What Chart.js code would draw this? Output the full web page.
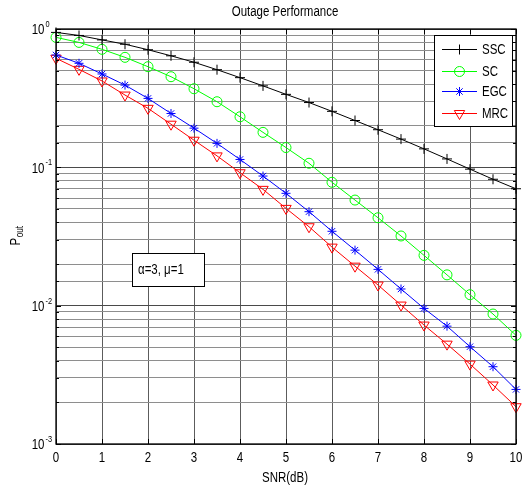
<!DOCTYPE html>
<html>
<head>
<meta charset="utf-8">
<script src="https://cdn.jsdelivr.net/npm/chart.js@4/dist/chart.umd.min.js"></script>
<style>
  html, body { margin: 0; background: #fff; }
  canvas { display: block; }
</style>
</head>
<body>
<canvas id="outageChart" width="523" height="488"></canvas>
<script>
(function () {
  "use strict";

  // SNR (dB) sample points
  const snr = [0, 0.5, 1, 1.5, 2, 2.5, 3, 3.5, 4, 4.5, 5, 5.5, 6, 6.5, 7, 7.5, 8, 8.5, 9, 9.5, 10];

  // outage probability per combiner
  const ssc = [0.945, 0.898, 0.834, 0.776, 0.708, 0.64, 0.575, 0.508, 0.445, 0.388, 0.337, 0.294, 0.254, 0.218, 0.187, 0.16, 0.136, 0.115, 0.097, 0.082, 0.07];
  const sc = [0.87, 0.8, 0.713, 0.624, 0.534, 0.452, 0.37, 0.298, 0.232, 0.179, 0.139, 0.107, 0.078, 0.058, 0.0432, 0.0319, 0.0231, 0.0167, 0.012, 0.0087, 0.0061];
  const egc = [0.649, 0.565, 0.473, 0.393, 0.315, 0.245, 0.192, 0.149, 0.114, 0.0865, 0.0649, 0.0478, 0.0345, 0.0252, 0.0183, 0.0132, 0.00955, 0.00711, 0.00505, 0.00362, 0.00248];
  const mrc = [0.614, 0.511, 0.421, 0.333, 0.267, 0.205, 0.157, 0.121, 0.0914, 0.0693, 0.0505, 0.0372, 0.0265, 0.0193, 0.0141, 0.0101, 0.00724, 0.00527, 0.00378, 0.00267, 0.00186];

  const seriesNames = ["SSC", "SC", "EGC", "MRC"];
  const xTicks = [0, 1, 2, 3, 4, 5, 6, 7, 8, 9, 10];
  const yExponents = [0, -1, -2, -3];

  const FONT = "'Liberation Sans', Arial, sans-serif";
  const SQUEEZE = 0.82; // the figure's text is horizontally compressed
  const colors = { ssc: "#000000", sc: "#00ff00", egc: "#0000ff", mrc: "#ff0000" };

  const isDecade = v => Math.abs(Math.log10(v) - Math.round(Math.log10(v))) < 1e-6;
  const toPoints = ys => snr.map((x, i) => ({ x, y: ys[i] }));

  // narrow text: draw with horizontal scaling around the anchor
  function text(ctx, str, x, y, size, align, baseline) {
    ctx.save();
    ctx.translate(x, y);
    ctx.scale(SQUEEZE, 1);
    ctx.font = size + "px " + FONT;
    ctx.textAlign = align || "left";
    ctx.textBaseline = baseline || "middle";
    ctx.fillText(str, 0, 0);
    ctx.restore();
  }
  function textWidth(ctx, str, size) {
    ctx.save();
    ctx.font = size + "px " + FONT;
    const w = ctx.measureText(str).width * SQUEEZE;
    ctx.restore();
    return w;
  }

  function series(label, ys, color, style, radius, rotation) {
    return {
      label,
      data: toPoints(ys),
      borderColor: color,
      backgroundColor: "rgba(0,0,0,0)",
      borderWidth: 1,
      pointStyle: style,
      pointRadius: radius,
      pointRotation: rotation || 0,
      pointBorderColor: color,
      pointBackgroundColor: "rgba(0,0,0,0)",
      pointBorderWidth: 1,
      tension: 0,
      clip: false
    };
  }

  const datasets = [
    series(seriesNames[0], ssc, colors.ssc, "cross", 5),
    series(seriesNames[1], sc, colors.sc, "circle", 5),
    series(seriesNames[2], egc, colors.egc, "star", 4.5),
    series(seriesNames[3], mrc, colors.mrc, "triangle", 6, 180)
  ];

  const decorations = {
    id: "decorations",
    afterDatasetsDraw(chart) {
      const { ctx, chartArea: a, scales } = chart;
      const xs = scales.x, ys = scales.y;
      ctx.save();

      // axes box
      ctx.strokeStyle = "#000";
      ctx.lineWidth = 1.3;
      ctx.strokeRect(a.left, a.top, a.right - a.left, a.bottom - a.top);

      // inward tick marks
      ctx.lineWidth = 1;
      ctx.beginPath();
      ys.ticks.forEach(t => {
        const y = Math.round(ys.getPixelForValue(t.value)) + 0.5;
        const len = isDecade(t.value) ? 5 : 3;
        ctx.moveTo(a.left, y); ctx.lineTo(a.left + len, y);
        ctx.moveTo(a.right, y); ctx.lineTo(a.right - len, y);
      });
      xTicks.forEach(v => {
        const x = Math.round(xs.getPixelForValue(v)) + 0.5;
        ctx.moveTo(x, a.bottom); ctx.lineTo(x, a.bottom - 5);
        ctx.moveTo(x, a.top); ctx.lineTo(x, a.top + 5);
      });
      ctx.stroke();

      ctx.fillStyle = "#000";
      // x tick labels
      xTicks.forEach(v => {
        text(ctx, String(v), xs.getPixelForValue(v), a.bottom + 14.5, 14, "center", "middle");
      });
      // y tick labels 10^n
      yExponents.forEach(p => {
        const y = ys.getPixelForValue(Math.pow(10, p));
        text(ctx, "10", 44.5, y + 1.5, 14, "right", "middle");
        text(ctx, String(p), 45.5, y - 2, 9, "left", "alphabetic");
      });

      // parameter note
      const bx = 132, by = 253, bw = 72, bh = 33;
      ctx.fillStyle = "#fff";
      ctx.fillRect(bx, by, bw, bh);
      ctx.strokeStyle = "#000";
      ctx.strokeRect(bx + 0.5, by + 0.5, bw, bh);
      ctx.fillStyle = "#000";
      text(ctx, "\u03b1=3, \u03bc=1", 138, 270, 14, "left", "middle");

      // legend
      const lx = 434, ly = 35, lw = 78, lh = 91;
      ctx.fillStyle = "#fff";
      ctx.fillRect(lx, ly, lw, lh);
      ctx.strokeStyle = "#000";
      ctx.lineWidth = 1;
      ctx.strokeRect(lx + 0.5, ly + 0.5, lw, lh);
      const rowsY = [49, 71, 91, 113];
      chart.data.datasets.forEach((ds, i) => {
        const y = rowsY[i] + 0.5;
        ctx.strokeStyle = ds.borderColor;
        ctx.lineWidth = 1;
        ctx.beginPath();
        ctx.moveTo(442, y); ctx.lineTo(477, y);
        ctx.stroke();
        ctx.fillStyle = "rgba(0,0,0,0)";
        Chart.helpers.drawPoint(ctx, {
          pointStyle: ds.pointStyle,
          radius: ds.pointRadius,
          rotation: ds.pointRotation,
          borderWidth: 1
        }, 459.5, y);
        ctx.fillStyle = "#000";
        text(ctx, ds.label, 482, rowsY[i] + 1, 14, "left", "middle");
      });

      // title and axis titles
      ctx.fillStyle = "#000";
      text(ctx, "Outage Performance", 285, 12, 14, "center", "middle");
      text(ctx, "SNR(dB)", 285, 478, 14, "center", "middle");

      // rotated P_out
      ctx.save();
      ctx.translate(16, 236);
      ctx.rotate(-Math.PI / 2);
      const wP = textWidth(ctx, "P", 14);
      const wSub = textWidth(ctx, "out", 10);
      const start = -(wP + wSub) / 2;
      text(ctx, "P", start, 4, 14, "left", "alphabetic");
      text(ctx, "out", start + wP + 0.5, 7, 10, "left", "alphabetic");
      ctx.restore();

      ctx.restore();
    }
  };

  new Chart(document.getElementById("outageChart"), {
    type: "line",
    data: { datasets },
    options: {
      responsive: false,
      animation: false,
      devicePixelRatio: 1,
      layout: { padding: { top: 29, right: 6, left: 0, bottom: 0 } },
      plugins: {
        legend: { display: false },
        tooltip: { enabled: false },
        title: { display: false }
      },
      scales: {
        x: {
          type: "linear",
          min: 0,
          max: 10,
          afterFit: s => { s.height = 44; },
          border: { display: false },
          grid: { color: "#5c5c5c", lineWidth: 1, drawTicks: false },
          ticks: {
            stepSize: 1,
            callback: () => "",
            maxRotation: 0
          }
        },
        y: {
          type: "logarithmic",
          min: 0.001,
          max: 1,
          afterFit: s => { s.width = 56; },
          border: { display: false },
          grid: {
            drawTicks: false,
            color: ctx => isDecade(ctx.tick.value) ? "#4a4a4a" : "#8e8e8e",
            lineWidth: 1
          },
          ticks: {
            autoSkip: false,
            callback: () => "",
            padding: 0
          }
        }
      }
    },
    plugins: [decorations]
  });
})();
</script>
</body>
</html>
